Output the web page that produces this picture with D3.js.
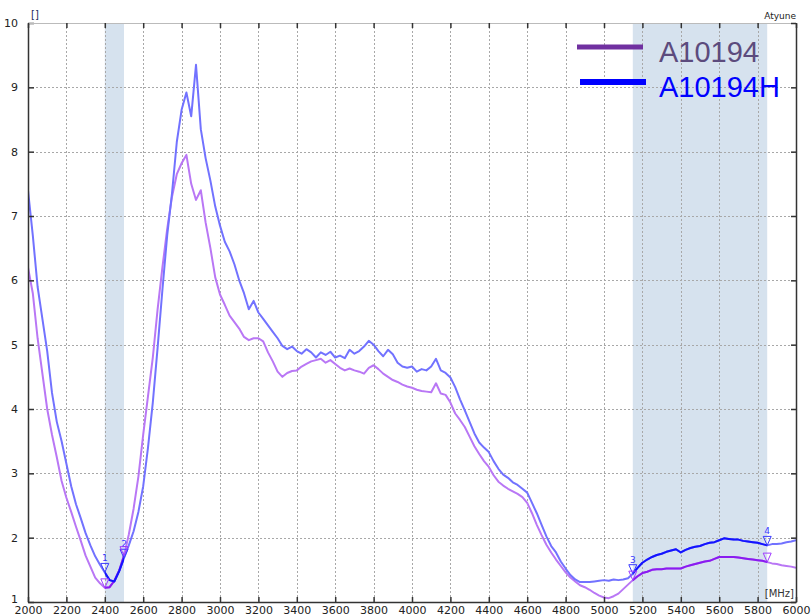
<!DOCTYPE html>
<html>
<head>
<meta charset="utf-8">
<script src="https://cdn.jsdelivr.net/npm/d3@7"></script>
<style>
  html, body { margin: 0; padding: 0; background: #fff; }
  svg { display: block; }
</style>
</head>
<body>
<div id="chart"></div>
<script>
// Frequency grid (MHz), one reading every 25 MHz
const freqs = d3.range(2000, 6001, 25);

// A10194 readings
const seriesA = [
  6.20, 5.80, 5.10, 4.55, 4.00, 3.60, 3.25, 2.88,
  2.62, 2.40, 2.17, 1.95, 1.72, 1.55, 1.38, 1.29,
  1.22, 1.23, 1.33, 1.49, 1.72, 2.05, 2.45, 2.95,
  3.60, 4.20, 4.80, 5.55, 6.20, 6.80, 7.30, 7.65,
  7.82, 7.95, 7.50, 7.25, 7.40, 6.90, 6.50, 6.05,
  5.78, 5.62, 5.45, 5.35, 5.25, 5.12, 5.07, 5.10,
  5.10, 5.05, 4.88, 4.74, 4.58, 4.50, 4.56, 4.59,
  4.60, 4.66, 4.70, 4.74, 4.76, 4.78, 4.72, 4.76,
  4.70, 4.64, 4.60, 4.63, 4.60, 4.58, 4.55, 4.64,
  4.68, 4.62, 4.55, 4.50, 4.45, 4.42, 4.38, 4.35,
  4.33, 4.30, 4.28, 4.27, 4.26, 4.40, 4.24, 4.22,
  4.10, 3.93, 3.83, 3.72, 3.57, 3.42, 3.30, 3.19,
  3.10, 2.97, 2.87, 2.81, 2.76, 2.72, 2.68, 2.63,
  2.54, 2.38, 2.20, 2.04, 1.89, 1.77, 1.66, 1.56,
  1.46, 1.38, 1.32, 1.26, 1.23, 1.19, 1.14, 1.10,
  1.07, 1.06, 1.09, 1.13, 1.20, 1.27, 1.34, 1.40,
  1.45, 1.47, 1.50, 1.51, 1.51, 1.52, 1.52, 1.52,
  1.52, 1.55, 1.57, 1.59, 1.61, 1.63, 1.64, 1.67,
  1.70, 1.70, 1.70, 1.70, 1.69, 1.68, 1.67, 1.66,
  1.65, 1.64, 1.62, 1.60, 1.59, 1.57, 1.56, 1.55,
  1.53
];

// A10194H readings
const seriesH = [
  7.40, 6.70, 5.90, 5.40, 4.90, 4.25, 3.80, 3.50,
  3.15, 2.80, 2.52, 2.30, 2.07, 1.88, 1.71, 1.58,
  1.46, 1.34, 1.32, 1.48, 1.68, 1.88, 2.10, 2.40,
  2.80, 3.40, 4.10, 4.95, 5.85, 6.70, 7.35, 8.15,
  8.65, 8.92, 8.55, 9.35, 8.35, 7.90, 7.55, 7.15,
  6.85, 6.60, 6.45, 6.25, 6.00, 5.80, 5.55, 5.68,
  5.50, 5.40, 5.30, 5.20, 5.10, 4.98, 4.93, 4.97,
  4.90, 4.86, 4.93, 4.88, 4.80, 4.88, 4.84, 4.89,
  4.80, 4.83, 4.79, 4.92, 4.86, 4.90, 4.97, 5.06,
  5.00, 4.90, 4.82, 4.92, 4.85, 4.72, 4.66, 4.64,
  4.66, 4.58, 4.62, 4.60, 4.66, 4.78, 4.60, 4.56,
  4.49, 4.34, 4.15, 3.98, 3.80, 3.62, 3.48, 3.40,
  3.33, 3.19, 3.07, 2.98, 2.93, 2.86, 2.82, 2.76,
  2.70, 2.54, 2.38, 2.20, 2.02, 1.87, 1.77, 1.63,
  1.52, 1.42, 1.35, 1.31, 1.31, 1.31, 1.32, 1.33,
  1.34, 1.33, 1.35, 1.34, 1.35, 1.37, 1.44, 1.53,
  1.61, 1.66, 1.70, 1.73, 1.75, 1.78, 1.80, 1.82,
  1.77, 1.81, 1.84, 1.86, 1.87, 1.90, 1.92, 1.93,
  1.96, 1.99, 1.98, 1.97, 1.97, 1.95, 1.94, 1.93,
  1.92, 1.90, 1.88, 1.90, 1.90, 1.91, 1.93, 1.94,
  1.96
];

const xTicks = d3.range(2000, 6001, 200);
const yTicks = d3.range(1, 11);
const bands = [[2400, 2500], [5150, 5850]];
const markerFreqs = [2400, 2500, 5150, 5850];
const seriesNames = ["A10194", "A10194H"];

// Dimensions
const width = 811;
const height = 616;
const marginTop = 23;
const marginRight = 15;
const marginBottom = 14;
const marginLeft = 28;

const svg = d3.select("#chart")
  .append("svg")
  .attr("width", width)
  .attr("height", height);

const x = d3.scaleLinear()
  .domain([2000, 6000])
  .range([marginLeft, width - marginRight]);

const y = d3.scaleLinear()
  .domain([1, 10])
  .range([height - marginBottom, marginTop]);

const defs = svg.append("defs");
defs.append("clipPath").attr("id", "plot")
  .append("rect")
  .attr("x", marginLeft).attr("y", marginTop)
  .attr("width", x(6000) - marginLeft).attr("height", y(1) - marginTop);

const bandClip = defs.append("clipPath").attr("id", "bands");
bandClip.selectAll("rect")
  .data(bands)
  .join("rect")
  .attr("x", d => x(d[0]))
  .attr("y", marginTop)
  .attr("width", d => x(d[1]) - x(d[0]))
  .attr("height", y(1) - marginTop);

// Shaded bands
svg.append("g")
  .selectAll("rect")
  .data(bands)
  .join("rect")
  .attr("x", d => x(d[0]))
  .attr("y", marginTop)
  .attr("width", d => x(d[1]) - x(d[0]))
  .attr("height", y(1) - marginTop)
  .attr("fill", "#d6e2ee");

// Grid
const grid = svg.append("g")
  .attr("stroke", "#a8a8a8")
  .attr("stroke-dasharray", "2,2")
  .attr("stroke-width", 1);

grid.selectAll("line.v")
  .data(xTicks.slice(1, -1))
  .join("line")
  .attr("class", "v")
  .attr("x1", d => Math.round(x(d)) + 0.5)
  .attr("x2", d => Math.round(x(d)) + 0.5)
  .attr("y1", marginTop)
  .attr("y2", y(1));

grid.selectAll("line.h")
  .data(yTicks.slice(1))
  .join("line")
  .attr("class", "h")
  .attr("x1", marginLeft)
  .attr("x2", x(6000))
  .attr("y1", d => Math.round(y(d)) + 0.5)
  .attr("y2", d => Math.round(y(d)) + 0.5);

// Lines
const line = d3.line()
  .x((d, i) => x(freqs[i]))
  .y(d => y(d));

const lines = [
  { values: seriesA, light: "#b977f5", dark: "#8a1cf0" },
  { values: seriesH, light: "#7272ff", dark: "#1414ff" }
];

const plot = svg.append("g").attr("clip-path", "url(#plot)");

plot.selectAll("path.light")
  .data(lines)
  .join("path")
  .attr("class", "light")
  .attr("fill", "none")
  .attr("stroke", d => d.light)
  .attr("stroke-width", 2)
  .attr("stroke-linejoin", "round")
  .attr("d", d => line(d.values));

svg.append("g").attr("clip-path", "url(#bands)")
  .selectAll("path")
  .data(lines)
  .join("path")
  .attr("fill", "none")
  .attr("stroke", d => d.dark)
  .attr("stroke-width", 2)
  .attr("stroke-linejoin", "round")
  .attr("d", d => line(d.values));

// Axes
const axisColor = "#333";
const xAxis = svg.append("g")
  .attr("transform", `translate(0,${y(1)})`)
  .call(d3.axisBottom(x).tickValues(xTicks).tickFormat(d3.format("d")).tickSizeInner(-5).tickSizeOuter(0).tickPadding(4));

const yAxis = svg.append("g")
  .attr("transform", `translate(${marginLeft},0)`)
  .call(d3.axisLeft(y).tickValues(yTicks).tickSizeInner(-6).tickSizeOuter(0).tickPadding(10));

[xAxis, yAxis].forEach(g => {
  g.select(".domain").attr("stroke", axisColor).attr("stroke-width", 1.5);
  g.selectAll(".tick line").attr("stroke", axisColor).attr("stroke-width", 1.5);
  g.selectAll(".tick text")
    .attr("fill", "#222")
    .style("font-family", "DejaVu Sans, Verdana, sans-serif")
    .style("font-size", "11px");
});
// lift the bottom y label a little so it clears the x labels
yAxis.selectAll(".tick text").filter(d => d === 1).attr("dy", "0.05em");

// Top and right frame with inward ticks
svg.append("g")
  .attr("transform", `translate(0,${marginTop})`)
  .call(d3.axisTop(x).tickValues(xTicks).tickSizeInner(-5).tickSizeOuter(0).tickFormat(""))
  .call(g => g.select(".domain").attr("stroke", "#bbb"))
  .call(g => g.selectAll(".tick line").attr("stroke", axisColor).attr("stroke-width", 1.5));

svg.append("g")
  .attr("transform", `translate(${x(6000)},0)`)
  .call(d3.axisRight(y).tickValues(yTicks).tickSizeInner(-5).tickSizeOuter(0).tickFormat(""))
  .call(g => g.select(".domain").attr("stroke", axisColor).attr("stroke-width", 1.5))
  .call(g => g.selectAll(".tick line").attr("stroke", axisColor).attr("stroke-width", 1.5));

// Unit labels
svg.append("text")
  .attr("x", marginLeft + 3)
  .attr("y", 18)
  .attr("fill", "#1c2a5c")
  .style("font-family", "DejaVu Sans, Verdana, sans-serif")
  .style("font-size", "10px")
  .text("[]");

svg.append("text")
  .attr("x", x(6000))
  .attr("y", 19)
  .attr("text-anchor", "end")
  .attr("fill", "#222")
  .style("font-family", "DejaVu Sans, Verdana, sans-serif")
  .style("font-size", "9px")
  .text("Atyune");

svg.append("text")
  .attr("x", x(6000) - 2)
  .attr("y", y(1) - 5)
  .attr("text-anchor", "end")
  .attr("fill", "#333")
  .style("font-family", "DejaVu Sans, Verdana, sans-serif")
  .style("font-size", "10px")
  .text("[MHz]");

// Markers
const markerData = [];
markerFreqs.forEach((f, k) => {
  const i = freqs.indexOf(f);
  markerData.push({ id: k + 1, f, v: seriesH[i], color: "#3a3aff", label: true });
  markerData.push({ id: k + 1, f, v: seriesA[i], color: "#a03cff", label: false });
});

const mk = svg.append("g").selectAll("g")
  .data(markerData)
  .join("g")
  .attr("transform", d => `translate(${x(d.f)},${y(d.v)})`);

mk.append("path")
  .attr("d", "M-4,-9L4,-9L0,0Z")
  .attr("fill", "none")
  .attr("stroke", d => d.color)
  .attr("stroke-width", 1);

mk.filter(d => d.label).append("text")
  .attr("y", -11)
  .attr("text-anchor", "middle")
  .attr("fill", "#3a3aff")
  .style("font-family", "DejaVu Sans, Verdana, sans-serif")
  .style("font-size", "9px")
  .text(d => d.id);

// Legend
const legendColors = [
  { line: "#7030a0", text: "#5c4b7d", w: 5 },
  { line: "#0000ff", text: "#0000ff", w: 6 }
];
const legend = svg.append("g")
  .selectAll("g")
  .data(seriesNames)
  .join("g")
  .attr("transform", (d, i) => `translate(0,${i * 35})`);

legend.append("line")
  .attr("x1", (d, i) => 577 + i * 3)
  .attr("x2", (d, i) => 643 + i * 3)
  .attr("y1", 47)
  .attr("y2", 47)
  .attr("stroke", (d, i) => legendColors[i].line)
  .attr("stroke-width", (d, i) => legendColors[i].w);

legend.append("text")
  .attr("x", 659)
  .attr("y", 62)
  .attr("fill", (d, i) => legendColors[i].text)
  .style("font-family", "Liberation Sans, Arial, sans-serif")
  .style("font-size", "29px")
  .text(d => d);
</script>
</body>
</html>
